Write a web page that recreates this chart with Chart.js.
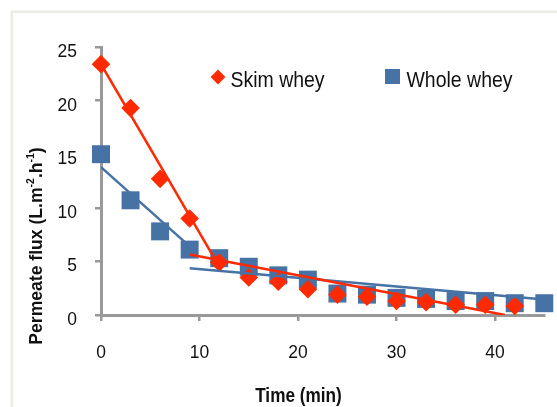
<!DOCTYPE html>
<html>
<head>
<meta charset="utf-8">
<script src="https://cdn.jsdelivr.net/npm/chart.js@4/dist/chart.umd.min.js"></script>
<style>
  html, body { margin: 0; padding: 0; background: #fff; }
  #wrap { width: 557px; height: 407px; }
</style>
</head>
<body>
<div id="wrap"><canvas id="fluxChart" width="557" height="407"></canvas></div>
<script>
    // time (min) for each sample
    const timeSkim = [0, 3, 6, 9, 12, 15, 18, 21, 24, 27, 30, 33, 36, 39, 42];
    const timeWhole = [0, 3, 6, 9, 12, 15, 18, 21, 24, 27, 30, 33, 36, 39, 42, 45];

    // permeate flux (L.m-2.h-1)
    const skimWhey = [23.4, 19.3, 12.7, 9.0, 4.9, 3.5, 3.1, 2.4, 1.9, 1.7, 1.3, 1.2, 0.95, 0.95, 0.85];
    const wholeWhey = [15.0, 10.7, 7.8, 6.1, 5.3, 4.5, 3.7, 3.3, 2.0, 1.9, 1.6, 1.5, 1.3, 1.3, 1.1, 1.1];

    // trend line end points
    const skimTrendA = [[0, 23.4], [12.2, 4.2]];
    const skimTrendB = [[9, 5.65], [41, 0]];
    const wholeTrendA = [[0, 13.8], [9, 6.4]];
    const wholeTrendB = [[9, 4.35], [45, 1.45]];

    const yTicks = [0, 5, 10, 15, 20, 25];
    const xTicks = [0, 10, 20, 30, 40];

    const RED = '#ff2a00';
    const BLUE = '#4672a6';
    const AXIS = '#999999';
    const FONT = "'Liberation Sans', Arial, sans-serif";

    const toPts = (xs, ys) => xs.map((x, i) => ({ x: x, y: ys[i] }));
    const pairPts = (arr) => arr.map(p => ({ x: p[0], y: p[1] }));

    function trend(data, color) {
        return {
            data: pairPts(data),
            showLine: true,
            borderColor: color,
            borderWidth: 2.5,
            pointRadius: 0,
            order: 0
        };
    }

    // the source figure uses a narrow face, so squeeze text horizontally
    function narrowText(ctx, text, x, y, font, sx, align) {
        ctx.save();
        ctx.translate(x, y);
        ctx.scale(sx, 1);
        ctx.font = font;
        ctx.textAlign = align;
        ctx.textBaseline = 'alphabetic';
        ctx.fillText(text, 0, 0);
        ctx.restore();
    }

    // frame, tick labels, legend and axis titles
    const decorPlugin = {
        id: 'decor',
        beforeDraw(chart) {
            const ctx = chart.ctx;
            ctx.save();
            ctx.fillStyle = '#fff';
            ctx.fillRect(0, 0, chart.width, chart.height);
            ctx.strokeStyle = '#ececE2';
            ctx.lineWidth = 2.5;
            ctx.strokeRect(11.8, 11.8, chart.width + 20, chart.height + 20);
            ctx.restore();
        },
        afterDraw(chart) {
            const ctx = chart.ctx;
            const xs = chart.scales.x, ys = chart.scales.y;
            ctx.save();
            ctx.fillStyle = '#111';
            const tickFont = '19px ' + FONT;
            yTicks.forEach(v => narrowText(ctx, String(v), 77, ys.getPixelForValue(v) + 10, tickFont, 0.92, 'right'));
            xTicks.forEach(v => narrowText(ctx, String(v), xs.getPixelForValue(v), 358, tickFont, 0.92, 'center'));

            // legend
            ctx.fillStyle = RED;
            ctx.beginPath();
            ctx.moveTo(218 - 7.4, 77); ctx.lineTo(218, 77 - 7.4); ctx.lineTo(218 + 7.4, 77); ctx.lineTo(218, 77 + 7.4);
            ctx.closePath(); ctx.fill();
            ctx.fillStyle = BLUE;
            ctx.fillRect(385, 69, 15, 15);
            ctx.fillStyle = '#111';
            const legFont = '22.5px ' + FONT;
            narrowText(ctx, 'Skim whey', 230.5, 86.7, legFont, 0.865, 'left');
            narrowText(ctx, 'Whole whey', 406.5, 86.7, legFont, 0.865, 'left');

            // x title
            narrowText(ctx, 'Time (min)', 298.5, 401.5, 'bold 20px ' + FONT, 0.86, 'center');

            // y title with superscripts
            ctx.translate(41.5, 246);
            ctx.rotate(-Math.PI / 2);
            ctx.scale(0.95, 1);
            const parts = [
                ['Permeate flux (L.m', false], ['-2', true], ['.h', false], ['-1', true], [')', false]
            ];
            const big = 'bold 18.5px ' + FONT, small = 'bold 11px ' + FONT;
            let total = 0;
            parts.forEach(p => { ctx.font = p[1] ? small : big; total += ctx.measureText(p[0]).width; });
            let x = -total / 2;
            ctx.textAlign = 'left';
            ctx.textBaseline = 'alphabetic';
            parts.forEach(p => {
                ctx.font = p[1] ? small : big;
                ctx.fillText(p[0], x, p[1] ? -7.5 : 0);
                x += ctx.measureText(p[0]).width;
            });
            ctx.restore();
        }
    };

    const ctx = document.getElementById('fluxChart');
    const fluxChart = new Chart(ctx, {
        type: 'scatter',
        data: {
            datasets: [
                trend(skimTrendA, RED),
                trend(skimTrendB, RED),
                trend(wholeTrendA, BLUE),
                trend(wholeTrendB, BLUE),
                {
                    label: 'Skim whey',
                    data: toPts(timeSkim, skimWhey),
                    pointStyle: 'rectRot',
                    pointRadius: 9.3,
                    pointHoverRadius: 9.3,
                    backgroundColor: RED,
                    borderWidth: 0,
                    clip: false,
                    order: 1
                },
                {
                    label: 'Whole whey',
                    data: toPts(timeWhole, wholeWhey),
                    pointStyle: 'rect',
                    pointRadius: 12.7,
                    pointHoverRadius: 12.7,
                    backgroundColor: BLUE,
                    borderWidth: 0,
                    clip: false,
                    order: 2
                }
            ]
        },
        options: {
            responsive: false,
            animation: false,
            devicePixelRatio: 1,
            layout: { padding: { left: 0, right: 12, top: 47, bottom: 0 } },
            plugins: {
                legend: { display: false },
                tooltip: { enabled: false }
            },
            scales: {
                x: {
                    type: 'linear',
                    min: 0,
                    max: 45,
                    afterFit: s => { s.height = 92; },
                    afterBuildTicks: s => { s.ticks = xTicks.map(v => ({ value: v })); },
                    border: { color: AXIS, width: 3 },
                    grid: { drawOnChartArea: false, drawTicks: true, tickLength: 6, color: AXIS, lineWidth: 2.5 },
                    ticks: { display: false }
                },
                y: {
                    min: 0,
                    max: 25,
                    afterFit: s => { s.width = 101; },
                    afterBuildTicks: s => { s.ticks = yTicks.map(v => ({ value: v })); },
                    border: { color: AXIS, width: 3 },
                    grid: { drawOnChartArea: false, drawTicks: true, tickLength: 6, color: AXIS, lineWidth: 2.5 },
                    ticks: { display: false }
                }
            }
        },
        plugins: [decorPlugin]
    });
</script>
</body>
</html>
